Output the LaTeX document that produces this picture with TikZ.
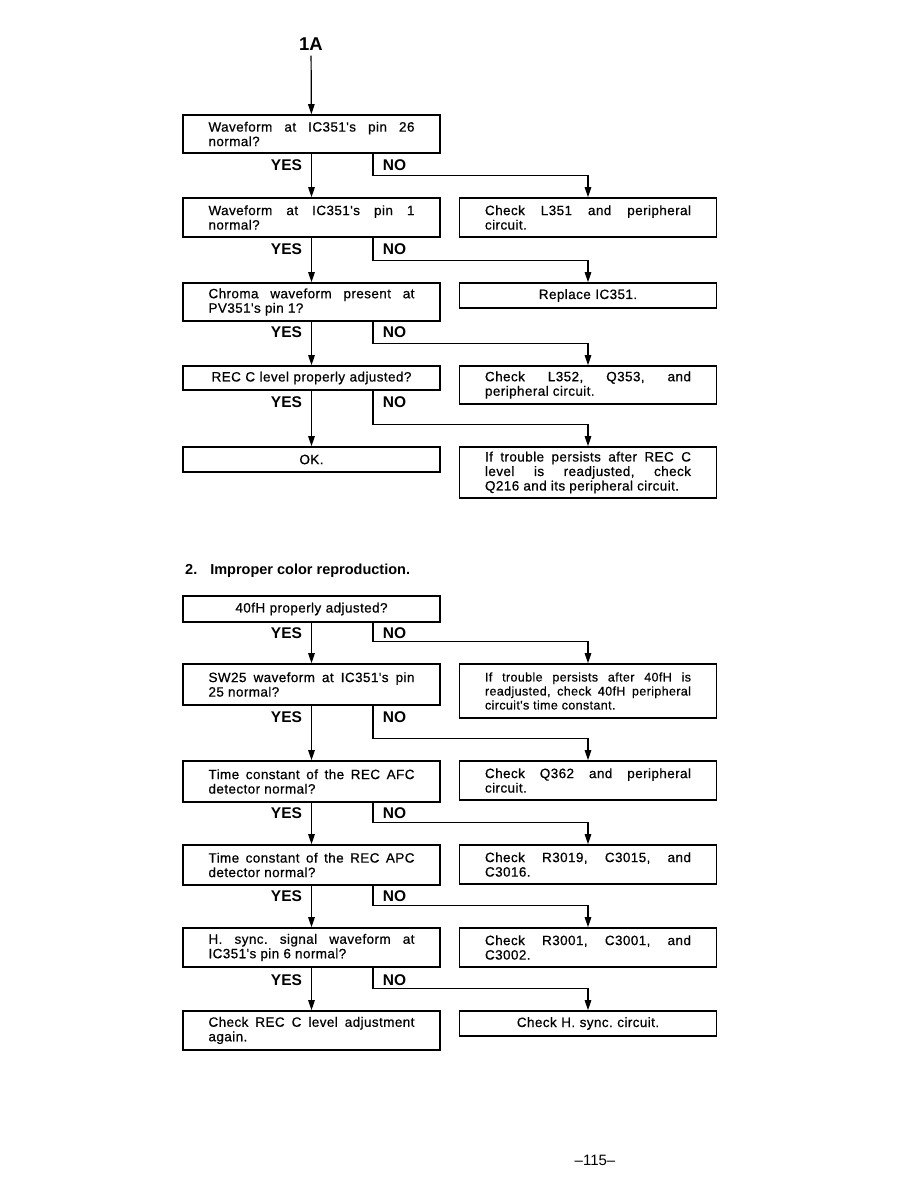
\documentclass[tikz,border=0pt]{standalone}
\usepackage{fontspec}
\setmainfont{Liberation Sans}
\newfontfamily\boxfont[LetterSpace=3.0, FakeBold=0.6]{Liberation Sans}
\usepackage{tikz}
\usetikzlibrary{arrows.meta}
\frenchspacing

\begin{document}
\begin{tikzpicture}[
    x=1pt, y=-1pt,
    box/.style={rectangle, draw=black, line width=1.6pt, inner sep=0pt,
                minimum width=257pt, text width=206pt, align=justify,
                font=\boxfont\fontsize{13.5}{14.5}\selectfont},
    cbox/.style={box, align=center},
    answer/.style={inner sep=0pt, font=\fontsize{15.5}{16}\selectfont\bfseries},
    link/.style={line width=1.2pt, -{Triangle[length=10pt, width=6.5pt]}},
  ]
    \useasboundingbox (0,0) rectangle (918,1188);

    % section 1
    \node[font=\fontsize{18.5}{19}\selectfont\bfseries, inner sep=5pt] (T1) at (311,44) {1A};

    \node[box, minimum height=38pt] (Q1) at (311.5,134) {Waveform at IC351's pin 26\linebreak normal?};
    \node[box, minimum height=39pt] (Q2) at (311.5,217.5) {Waveform at IC351's pin 1\linebreak normal?};
    \node[box, minimum height=38pt] (Q3) at (311.5,302) {Chroma waveform present at\linebreak PV351's pin 1?};
    \node[cbox, minimum height=24pt] (Q4) at (311.5,378) {REC C level properly adjusted?};
    \node[cbox, minimum height=25pt] (OK1) at (311.5,459.5) {OK.};

    \node[box, minimum height=39pt] (R2) at (588,217.5) {Check L351 and peripheral\linebreak circuit.};
    \node[cbox, minimum height=25pt] (R3) at (588,295.5) {Replace IC351.};
    \node[box, minimum height=38pt] (R4) at (588,385) {Check L352, Q353, and\linebreak peripheral circuit.};
    \node[box, minimum height=51pt] (R5) at (588,472.5) {If trouble persists after REC C\linebreak level is readjusted, check\linebreak Q216 and its peripheral circuit.};

    \node[answer] (Y1) at (286.5,165) {YES};
    \node[answer] (N1) at (394.5,165) {NO};
    \node[answer] (Y2) at (286.5,249) {YES};
    \node[answer] (N2) at (394.5,249) {NO};
    \node[answer] (Y3) at (286.5,332) {YES};
    \node[answer] (N3) at (394.5,332) {NO};
    \node[answer] (Y4) at (286.5,402) {YES};
    \node[answer] (N4) at (394.5,402) {NO};

    \draw[link] (T1) -- (Q1);
    \draw[link] (Q1) -- (Q2);
    \draw[link] (Q2) -- (Q3);
    \draw[link] (Q3) -- (Q4);
    \draw[link] (Q4) -- (OK1);
    \draw[link] ([xshift=61.5pt]Q1.south) |- ([yshift=22pt]R2.north) -- (R2.north);
    \draw[link] ([xshift=61.5pt]Q2.south) |- ([yshift=22pt]R3.north) -- (R3.north);
    \draw[link] ([xshift=61.5pt]Q3.south) |- ([yshift=22pt]R4.north) -- (R4.north);
    \draw[link] ([xshift=61.5pt]Q4.south) |- ([yshift=22pt]R5.north) -- (R5.north);

    % section 2
    \node[anchor=west, inner sep=0pt, font=\fontsize{14.5}{15}\selectfont\bfseries] (H2) at (185,571)
      {2.\hspace{13pt}Improper color reproduction.};

    \node[cbox, minimum height=26pt] (Q6) at (311.5,609) {40fH properly adjusted?};
    \node[box, minimum height=41pt] (Q7) at (311.5,684.5) {SW25 waveform at IC351's pin\linebreak 25 normal?};
    \node[box, minimum height=41pt] (Q8) at (311.5,781.5) {Time constant of the REC AFC\linebreak detector normal?};
    \node[box, minimum height=40pt] (Q9) at (311.5,865) {Time constant of the REC APC\linebreak detector normal?};
    \node[box, minimum height=39pt] (Q10) at (311.5,947.5) {H. sync. signal waveform at\linebreak IC351's pin 6 normal?};
    \node[box, minimum height=39pt] (E1) at (311.5,1030.5) {Check REC C level adjustment\linebreak again.};

    \node[box, minimum height=54pt, font=\boxfont\fontsize{12.5}{14}\selectfont] (R7) at (588,691)
      {If trouble persists after 40fH is\linebreak readjusted, check 40fH peripheral\linebreak circuit's time constant.};
    \node[box, minimum height=39pt] (R8) at (588,780.5) {Check Q362 and peripheral\linebreak circuit.};
    \node[box, minimum height=39pt] (R9) at (588,864.5) {Check R3019, C3015, and\linebreak C3016.};
    \node[box, minimum height=39pt] (R10) at (588,947.5) {Check R3001, C3001, and\linebreak C3002.};
    \node[cbox, minimum height=25pt] (R11) at (588,1023.5) {Check H. sync. circuit.};

    \node[answer] (Y6) at (286.5,633) {YES};
    \node[answer] (N6) at (394.5,633) {NO};
    \node[answer] (Y7) at (286.5,717) {YES};
    \node[answer] (N7) at (394.5,717) {NO};
    \node[answer] (Y8) at (286.5,813) {YES};
    \node[answer] (N8) at (394.5,813) {NO};
    \node[answer] (Y9) at (286.5,896) {YES};
    \node[answer] (N9) at (394.5,896) {NO};
    \node[answer] (Y10) at (286.5,980) {YES};
    \node[answer] (N10) at (394.5,980) {NO};

    \draw[link] (Q6) -- (Q7);
    \draw[link] (Q7) -- (Q8);
    \draw[link] (Q8) -- (Q9);
    \draw[link] (Q9) -- (Q10);
    \draw[link] (Q10) -- (E1);
    \draw[link] ([xshift=61.5pt]Q6.south) |- ([yshift=22pt]R7.north) -- (R7.north);
    \draw[link] ([xshift=61.5pt]Q7.south) |- ([yshift=22pt]R8.north) -- (R8.north);
    \draw[link] ([xshift=61.5pt]Q8.south) |- ([yshift=22pt]R9.north) -- (R9.north);
    \draw[link] ([xshift=61.5pt]Q9.south) |- ([yshift=22pt]R10.north) -- (R10.north);
    \draw[link] ([xshift=61.5pt]Q10.south) |- ([yshift=22pt]R11.north) -- (R11.north);

    \node[font=\fontsize{15}{16}\selectfont] (P1) at (595,1160) {--115--};
  \end{tikzpicture}
\end{document}
